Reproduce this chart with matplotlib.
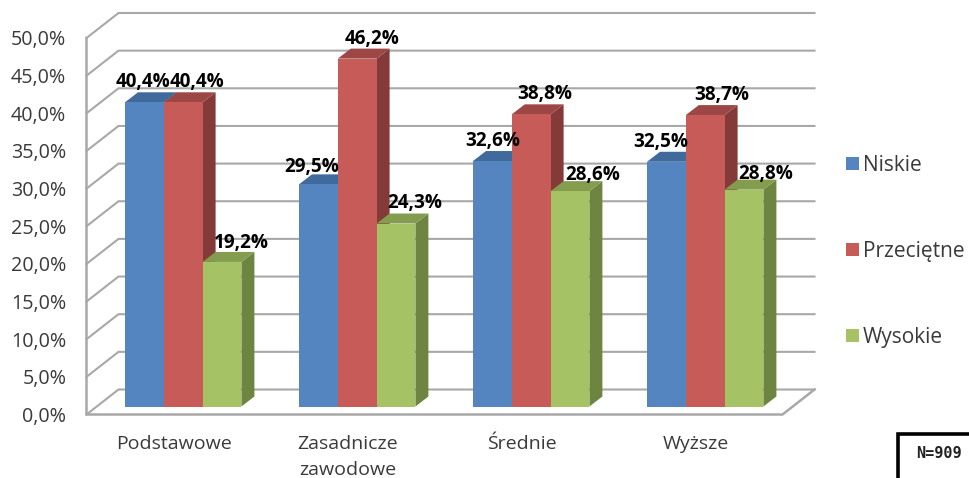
import matplotlib
matplotlib.use("Agg")
import matplotlib.pyplot as plt
from matplotlib.patches import Polygon, Rectangle
from matplotlib.lines import Line2D

categories = ["Podstawowe", "Zasadnicze\nzawodowe", "Średnie", "Wyższe"]
niskie = [40.4, 29.5, 32.6, 32.5]
przecietne = [40.4, 46.2, 38.8, 38.7]
wysokie = [19.2, 24.3, 28.6, 28.8]
series_names = ["Niskie", "Przeciętne", "Wysokie"]
y_ticks = [0, 5, 10, 15, 20, 25, 30, 35, 40, 45, 50]

W, H = 969, 478
FRONT_L, FRONT_R, FRONT_B, FRONT_T = 86.5, 782.5, 414.5, 38.0
PX_X = 4 / (FRONT_R - FRONT_L)      # data units of x per pixel
PX_Y = 50 / (FRONT_B - FRONT_T)     # data units of y per pixel
WALL_DX, WALL_DY = 32 * PX_X, 25 * PX_Y
BAR_W = 38.8 * PX_X
BAR_X0, BAR_Y0 = 38.5 * PX_X, 8 * PX_Y
DEPTH_X, DEPTH_Y = 13 * PX_X, 10 * PX_Y

front = ["#5585C1", "#C65B58", "#A5C264"]
top = ["#3F6A9B", "#9C4745", "#839C4E"]
side = ["#35587F", "#843A39", "#6E8541"]
grid = "#A8A8A8"
text_c = "#3A3A3A"

# label nudges in pixels relative to the front-face centre / top
label_dx = [[-1, 14, 19], [-7, 15, 19], [0, 14, 23], [-6, 17, 22]]
label_dy = [[20, 20, 19], [17, 20, 21], [20, 20, 16], [20, 20, 16]]

plt.rcParams["font.family"] = ["Open Sans", "DejaVu Sans"]
fig = plt.figure(figsize=(W / 100, H / 100), dpi=100)
ax = fig.add_axes([FRONT_L / W, 1 - FRONT_B / H,
                   (FRONT_R - FRONT_L) / W, (FRONT_B - FRONT_T) / H])
ax.set_xlim(-0.5, 3.5)
ax.set_ylim(0, 50)
for s in ax.spines.values():
    s.set_visible(False)
ax.set_xticks(range(len(categories)))
ax.set_xticklabels(categories, fontsize=14, color=text_c, linespacing=1.6)
ax.set_yticks(y_ticks)
ax.set_yticklabels([f"{t:.1f}%".replace(".", ",") for t in y_ticks],
                   fontsize=14.2, color=text_c)
ax.tick_params(axis="x", length=0, pad=14.5)
ax.tick_params(axis="y", length=0, pad=14.5)

xl, xr = -0.5, 3.5
lw = 1.5
for t in y_ticks:
    ax.plot([xl, xl + WALL_DX, xr + WALL_DX], [t, t + WALL_DY, t + WALL_DY],
            color=grid, lw=lw, clip_on=False, zorder=1, solid_joinstyle="miter")
ax.plot([xl, xl, xr, xr + WALL_DX], [50, 0, 0, WALL_DY],
        color=grid, lw=lw + 0.3, clip_on=False, zorder=1, solid_joinstyle="miter")

series = [niskie, przecietne, wysokie]
for k, (name, vals) in enumerate(zip(series_names, series)):
    xs = [i - 0.5 + BAR_X0 + (k + 0.5) * BAR_W for i in range(len(vals))]
    z = 3 + k
    for i, v in enumerate(vals):
        x0 = xs[i] - BAR_W / 2
        x1 = x0 + BAR_W
        y1 = v + BAR_Y0
        ax.add_patch(Polygon([(x1, BAR_Y0), (x1 + DEPTH_X, BAR_Y0 + DEPTH_Y),
                              (x1 + DEPTH_X, y1 + DEPTH_Y), (x1, y1)],
                             fc=side[k], ec="none", zorder=z, clip_on=False))
        ax.add_patch(Polygon([(x0, y1), (x0 + DEPTH_X, y1 + DEPTH_Y),
                              (x1 + DEPTH_X, y1 + DEPTH_Y), (x1, y1)],
                             fc=top[k], ec="none", zorder=z, clip_on=False))
    ax.bar(xs, vals, width=BAR_W, bottom=BAR_Y0, color=front[k], zorder=z + 0.5,
           linewidth=0, clip_on=False, label=name)
    for i, (x, v) in enumerate(zip(xs, vals)):
        ax.text(x + label_dx[i][k] * PX_X, v + BAR_Y0 + label_dy[i][k] * PX_Y,
                f"{v:.1f}%".replace(".", ","), ha="center", va="center",
                fontsize=13.6, fontweight="bold", color="black", zorder=10, clip_on=False)

# legend
handles = [Rectangle((0, 0), 1, 1, fc=c, ec="none") for c in front]
fig.legend(handles, series_names, loc="center left",
           bbox_to_anchor=(846 / W, 1 - 251.5 / H), frameon=False,
           fontsize=15, labelcolor=text_c, handlelength=0.62, handleheight=0.62,
           handletextpad=0.2, labelspacing=3.12, borderpad=0, borderaxespad=0)

# N=909 box
fig.add_artist(Line2D([898 / W, 898 / W, 1], [0, 1 - 434 / H, 1 - 434 / H],
                      color="black", lw=2.6, solid_joinstyle="miter"))
fig.text(939 / W, 1 - 453 / H, "N=909", ha="center", va="center", fontsize=11,
         fontweight="bold", family="DejaVu Sans Mono", color="#222222")

fig.savefig("out.png", dpi=100, facecolor="white")
